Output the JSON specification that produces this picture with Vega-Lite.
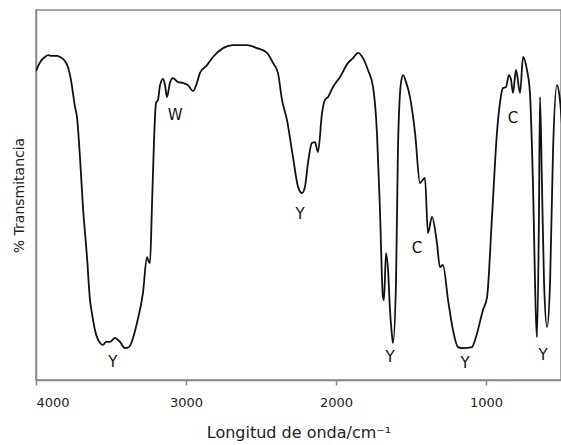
{
  "$schema": "https://vega.github.io/schema/vega-lite/v6.json",
  "width": 525,
  "height": 370,
  "autosize": {"type": "none"},
  "padding": {"left": 36, "top": 10, "right": 0, "bottom": 65},
  "background": "white",
  "config": {
    "font": "DejaVu Sans",
    "view": {"stroke": "#888888", "strokeWidth": 1.5}
  },
  "datasets": {
    "spec": [
      {"wn": 4000, "t": 83.5}, {"wn": 3973, "t": 85.9}, {"wn": 3940, "t": 87.3}, {"wn": 3920, "t": 87.8},
      {"wn": 3893, "t": 87.6}, {"wn": 3860, "t": 87.6}, {"wn": 3840, "t": 87.3}, {"wn": 3813, "t": 86.5},
      {"wn": 3787, "t": 84.6}, {"wn": 3767, "t": 81.1}, {"wn": 3740, "t": 73.8}, {"wn": 3727, "t": 71.1},
      {"wn": 3707, "t": 60.3}, {"wn": 3687, "t": 46.8}, {"wn": 3660, "t": 33.2}, {"wn": 3640, "t": 21.6},
      {"wn": 3627, "t": 18.1}, {"wn": 3607, "t": 13.5}, {"wn": 3573, "t": 10.0}, {"wn": 3553, "t": 9.5},
      {"wn": 3533, "t": 10.3}, {"wn": 3507, "t": 10.3}, {"wn": 3473, "t": 11.4}, {"wn": 3453, "t": 10.8},
      {"wn": 3440, "t": 10.3}, {"wn": 3407, "t": 8.6}, {"wn": 3380, "t": 8.9}, {"wn": 3353, "t": 11.4},
      {"wn": 3327, "t": 15.4}, {"wn": 3287, "t": 23.5}, {"wn": 3260, "t": 33.2}, {"wn": 3253, "t": 32.4},
      {"wn": 3240, "t": 31.6}, {"wn": 3227, "t": 46.8}, {"wn": 3213, "t": 64.9}, {"wn": 3200, "t": 74.9},
      {"wn": 3187, "t": 75.7}, {"wn": 3173, "t": 79.7}, {"wn": 3153, "t": 81.4}, {"wn": 3140, "t": 79.7},
      {"wn": 3127, "t": 76.5}, {"wn": 3107, "t": 80.3}, {"wn": 3087, "t": 81.6}, {"wn": 3053, "t": 80.5},
      {"wn": 3020, "t": 80.3}, {"wn": 2987, "t": 79.7}, {"wn": 2953, "t": 78.1}, {"wn": 2927, "t": 80.3},
      {"wn": 2907, "t": 83.0}, {"wn": 2860, "t": 85.1}, {"wn": 2820, "t": 87.3}, {"wn": 2753, "t": 89.7},
      {"wn": 2687, "t": 90.5}, {"wn": 2593, "t": 90.5}, {"wn": 2527, "t": 89.7}, {"wn": 2460, "t": 88.4},
      {"wn": 2420, "t": 85.7}, {"wn": 2387, "t": 83.0}, {"wn": 2360, "t": 75.7}, {"wn": 2327, "t": 70.3},
      {"wn": 2287, "t": 60.3}, {"wn": 2253, "t": 52.2}, {"wn": 2227, "t": 50.5}, {"wn": 2207, "t": 52.2},
      {"wn": 2187, "t": 58.6}, {"wn": 2160, "t": 64.1}, {"wn": 2140, "t": 64.3}, {"wn": 2120, "t": 61.6},
      {"wn": 2093, "t": 72.2}, {"wn": 2073, "t": 75.7}, {"wn": 2053, "t": 76.5}, {"wn": 2020, "t": 79.2},
      {"wn": 1973, "t": 81.9}, {"wn": 1920, "t": 85.7}, {"wn": 1887, "t": 87.0}, {"wn": 1853, "t": 88.4},
      {"wn": 1820, "t": 87.0}, {"wn": 1787, "t": 83.8}, {"wn": 1753, "t": 79.2}, {"wn": 1727, "t": 66.8},
      {"wn": 1707, "t": 45.9}, {"wn": 1687, "t": 22.4}, {"wn": 1680, "t": 21.6}, {"wn": 1667, "t": 34.3},
      {"wn": 1653, "t": 29.7}, {"wn": 1640, "t": 18.9}, {"wn": 1627, "t": 12.2}, {"wn": 1620, "t": 10.0},
      {"wn": 1600, "t": 26.2}, {"wn": 1587, "t": 62.2}, {"wn": 1567, "t": 80.3}, {"wn": 1553, "t": 82.4},
      {"wn": 1533, "t": 80.5}, {"wn": 1507, "t": 76.5}, {"wn": 1473, "t": 66.8}, {"wn": 1440, "t": 53.2},
      {"wn": 1427, "t": 53.8}, {"wn": 1407, "t": 54.6}, {"wn": 1387, "t": 39.7}, {"wn": 1360, "t": 44.1},
      {"wn": 1327, "t": 37.0}, {"wn": 1307, "t": 30.5}, {"wn": 1287, "t": 31.1}, {"wn": 1253, "t": 21.6},
      {"wn": 1220, "t": 13.5}, {"wn": 1187, "t": 8.9}, {"wn": 1153, "t": 8.6}, {"wn": 1093, "t": 8.9},
      {"wn": 1073, "t": 10.8}, {"wn": 1020, "t": 18.9}, {"wn": 993, "t": 22.4}, {"wn": 960, "t": 44.1},
      {"wn": 927, "t": 66.8}, {"wn": 907, "t": 74.9}, {"wn": 887, "t": 78.9}, {"wn": 867, "t": 79.2},
      {"wn": 847, "t": 82.4}, {"wn": 833, "t": 81.1}, {"wn": 820, "t": 77.6}, {"wn": 800, "t": 83.8},
      {"wn": 773, "t": 77.6}, {"wn": 753, "t": 87.3}, {"wn": 727, "t": 83.8}, {"wn": 707, "t": 77.6},
      {"wn": 687, "t": 53.2}, {"wn": 667, "t": 17.0}, {"wn": 660, "t": 11.6}, {"wn": 647, "t": 44.1},
      {"wn": 640, "t": 76.5}, {"wn": 627, "t": 53.2}, {"wn": 613, "t": 26.2}, {"wn": 593, "t": 14.3},
      {"wn": 573, "t": 26.2}, {"wn": 553, "t": 62.2}, {"wn": 527, "t": 79.7}, {"wn": 507, "t": 75.7},
      {"wn": 487, "t": 64.9}
    ],
    "labels": [
      {"wn": 3073, "t": 71.6, "label": "W"},
      {"wn": 3487, "t": 4.9, "label": "Y"},
      {"wn": 2240, "t": 44.9, "label": "Y"},
      {"wn": 1460, "t": 35.7, "label": "C"},
      {"wn": 1640, "t": 6.2, "label": "Y"},
      {"wn": 1140, "t": 4.6, "label": "Y"},
      {"wn": 820, "t": 70.8, "label": "C"},
      {"wn": 620, "t": 6.8, "label": "Y"}
    ]
  },
  "layer": [
    {
      "data": {"name": "spec"},
      "mark": {"type": "line", "color": "#111111", "strokeWidth": 1.8, "clip": true, "interpolate": "monotone"},
      "encoding": {
        "x": {
          "field": "wn", "type": "quantitative",
          "scale": {"domain": [500, 4000], "reverse": true, "nice": false},
          "axis": {
            "values": [4000, 3000, 2000, 1000],
            "format": "d",
            "title": "Longitud de onda/cm⁻¹",
            "titleFontSize": 16, "titleFontWeight": "normal", "titleColor": "#222222", "titlePadding": 15,
            "labelFontSize": 13, "labelColor": "#222222", "labelPadding": 11,
            "domainColor": "#888888", "domainWidth": 1.5,
            "tickColor": "#888888", "tickWidth": 1.5, "tickSize": 5,
            "grid": false
          }
        },
        "y": {
          "field": "t", "type": "quantitative",
          "scale": {"domain": [0, 100], "nice": false},
          "axis": {
            "title": "% Transmitancia",
            "titleFontSize": 14, "titleFontWeight": "normal", "titleColor": "#222222", "titlePadding": 10,
            "labels": false, "ticks": false, "grid": false,
            "domainColor": "#888888", "domainWidth": 1.5
          }
        }
      }
    },
    {
      "data": {"name": "labels"},
      "mark": {"type": "text", "fontSize": 15, "color": "#111111", "align": "center", "baseline": "middle"},
      "encoding": {
        "x": {"field": "wn", "type": "quantitative"},
        "y": {"field": "t", "type": "quantitative"},
        "text": {"field": "label"}
      }
    }
  ]
}
